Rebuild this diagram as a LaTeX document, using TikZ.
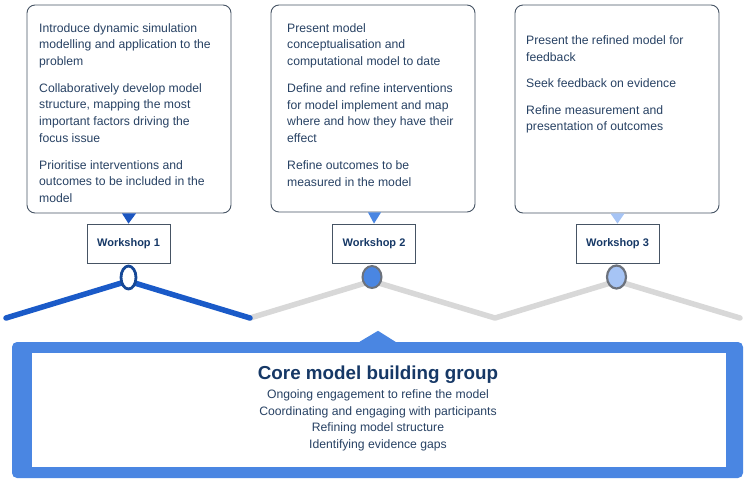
\documentclass[tikz,border=0pt]{standalone}
\usepackage{fontspec}
\setmainfont{Liberation Sans}
\usetikzlibrary{shapes.geometric}
\definecolor{textc}{RGB}{40,66,100}
\definecolor{boxc}{RGB}{70,84,100}
\definecolor{navy}{RGB}{22,56,102}
\definecolor{lineblue}{RGB}{26,90,200}
\definecolor{triblue}{RGB}{28,86,192}
\definecolor{midblue}{RGB}{74,134,226}
\definecolor{lightblue}{RGB}{166,196,245}
\definecolor{greyline}{RGB}{216,216,216}
\definecolor{ringgrey}{RGB}{108,114,124}
\definecolor{ringnavy}{RGB}{22,72,150}
\begin{document}
\begin{tikzpicture}[x=1pt,y=-1pt,
  infobox/.style={draw=boxc, line width=0.9pt, rounded corners=8pt, fill=white, inner sep=0pt},
  infotext/.style={anchor=north west, inner sep=0pt, align=left, text=textc, font=\fontsize{12.2}{16.7}\selectfont},
  wsbox/.style={draw=boxc, line width=0.8pt, fill=white, minimum width=83pt, minimum height=39pt, inner sep=0pt, text=navy, font=\bfseries\fontsize{11}{14}\selectfont},
  ring/.style={ellipse, inner sep=0pt},
  track/.style={line width=5.5pt, line cap=round, line join=round},
]
\useasboundingbox (0,0) rectangle (750,483);

% zigzag track
\coordinate (z0) at (6,318);
\coordinate (a1) at (128,281);
\coordinate (v1) at (250,318);
\coordinate (a2) at (372,281);
\coordinate (v2) at (495,318);
\coordinate (a3) at (617,281);
\coordinate (z1) at (740,318);
\draw[track, greyline] (v1) -- (a2) -- (v2) -- (a3) -- (z1);
\draw[track, lineblue] (z0) -- (a1) -- (v1);

% info boxes
\node[infobox, minimum width=204pt, minimum height=208pt] (b1) at (129,109) {};
\node[infobox, minimum width=204pt, minimum height=207pt] (b2) at (373,108.5) {};
\node[infobox, minimum width=204pt, minimum height=208pt] (b3) at (617,109) {};

\node[infotext] (t1) at (39,23.1) {Introduce dynamic simulation\\modelling and application to the\\problem\\[10pt]
Collaboratively develop model\\structure, mapping the most\\important factors driving the\\focus issue\\[10pt]
Prioritise interventions and\\outcomes to be included in the\\model};
\node[infotext] (t2) at (287,23.1) {Present model\\conceptualisation and\\computational model to date\\[10.3pt]
Define and refine interventions\\for model implement and map\\where and how they have their\\effect\\[10.3pt]
Refine outcomes to be\\measured in the model};
\node[infotext] (t3) at (526,35.5) {Present the refined model for\\feedback\\[9.8pt]
Seek feedback on evidence\\[9.8pt]
Refine measurement and\\presentation of outcomes};

% workshop boxes
\node[wsbox] (w1) at (128.5,243.5) {Workshop 1};
\node[wsbox] (w2) at (374,243.5) {Workshop 2};
\node[wsbox] (w3) at (617.5,243.5) {Workshop 3};

% pointers
\fill[triblue] ([xshift=-7pt]b1.south) -- ([xshift=7pt]b1.south) -- (w1.north) -- cycle;
\fill[midblue] ([xshift=-6pt]b2.south -| w2.north) -- ([xshift=7pt]b2.south -| w2.north) -- (w2.north) -- cycle;
\fill[lightblue] ([xshift=-7pt]b3.south -| w3.north) -- ([xshift=7pt]b3.south -| w3.north) -- (w3.north) -- cycle;

% milestones
\node[ring, draw=ringnavy, fill=white, line width=2.8pt, minimum width=15pt, minimum height=23pt] (c1) at (128.5,277.5) {};
\node[ring, draw=ringgrey, fill=midblue, line width=2pt, minimum width=19pt, minimum height=22pt] (c2) at (372,277) {};
\node[ring, draw=ringgrey, fill=lightblue, line width=2.2pt, minimum width=19pt, minimum height=23pt] (c3) at (616.5,277) {};

% core group
\node[fill=midblue, rounded corners=5pt, minimum width=731pt, minimum height=136pt, inner sep=0pt] (core) at (377.5,410) {};
\fill[midblue] ([xshift=-18pt]core.north) -- ([xshift=0.5pt,yshift=11pt]core.north) -- ([xshift=18pt]core.north) -- cycle;
\node[fill=white, minimum width=694pt, minimum height=114pt, inner sep=0pt] (inner) at (379,410) {};
\node[anchor=base, inner sep=0pt, text=navy, font=\bfseries\fontsize{18.8}{22}\selectfont] (title) at (378,379) {Core model building group};
\node[anchor=north, inner sep=0pt, align=center, text=textc, font=\fontsize{12.2}{16.8}\selectfont] (items) at (378,389.3) {Ongoing engagement to refine the model\\Coordinating and engaging with participants\\Refining model structure\\Identifying evidence gaps};
\end{tikzpicture}
\end{document}
